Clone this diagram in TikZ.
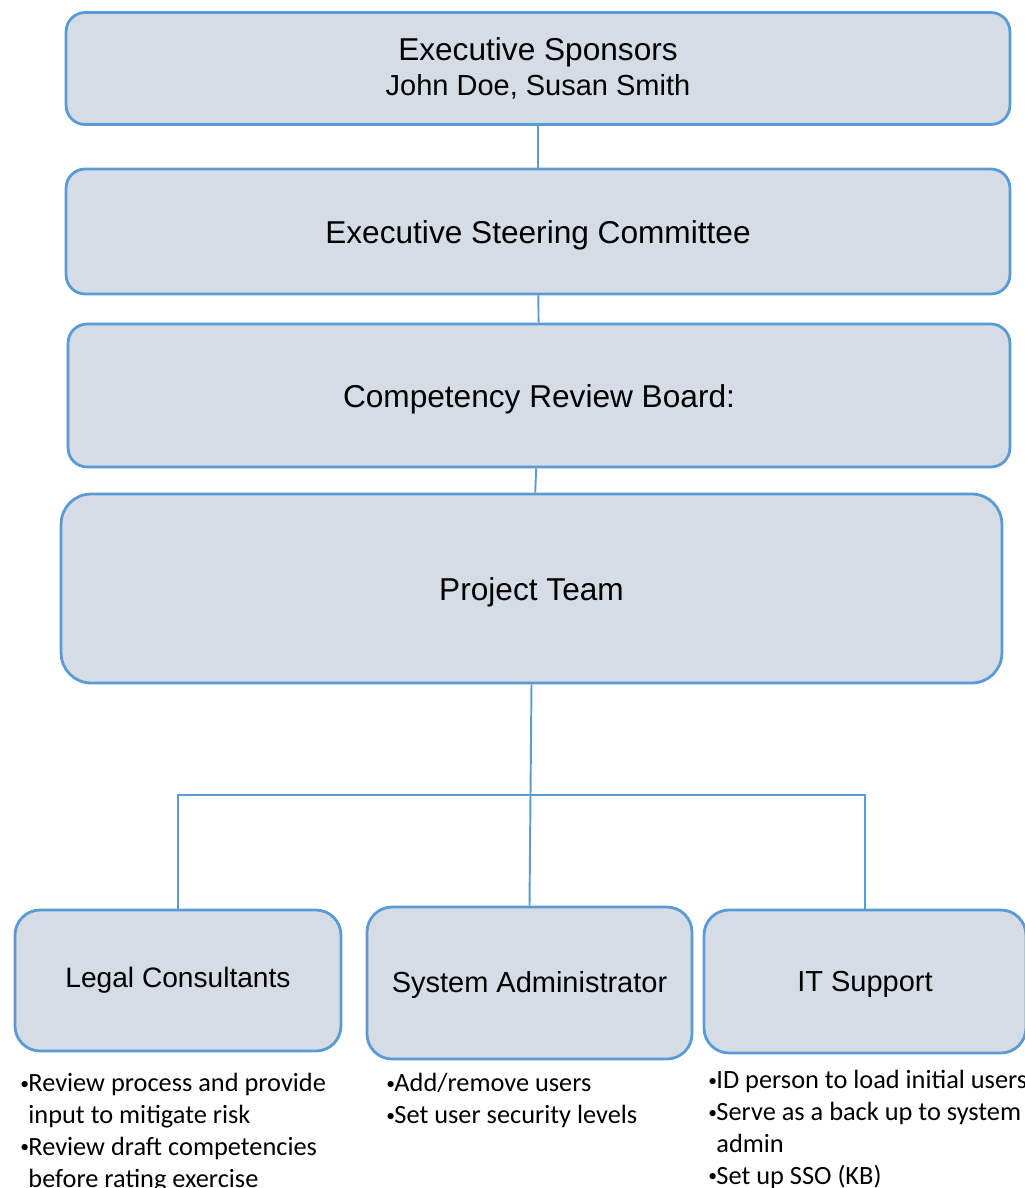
\documentclass[tikz,border=0pt]{standalone}
\usepackage{fontspec}
\setmainfont{Liberation Sans}
\newfontfamily\notefont{Carlito}
\usetikzlibrary{positioning}
\usetikzlibrary{calc}
\definecolor{boxfill}{HTML}{D6DCE5}
\definecolor{boxline}{HTML}{5B9BD5}
\newcommand{\bul}{\makebox[4.6pt][l]{\raisebox{0.1em}{\fontsize{10}{10}\selectfont •}}}
\newcommand{\hang}{\hspace*{4.6pt}}
\tikzset{unit/.style={draw=boxline, fill=boxfill, line width=1.6pt, rounded corners=0.38cm, align=center, inner sep=0pt}}
\tikzset{big/.style={font=\fontsize{18}{21}\selectfont}}
\tikzset{small/.style={font=\fontsize{16.5}{20}\selectfont}}
\tikzset{lowbig/.style={text height=17.5pt, text depth=4pt}}
\tikzset{lowsmall/.style={text height=15pt, text depth=3.7pt}}
\tikzset{conn/.style={draw=boxline, line width=1.1pt}}
\tikzset{notes/.style={anchor=north west, inner sep=0pt, align=left, font=\notefont\fontsize{15}{18.2}\selectfont}}

\begin{document}
\begin{tikzpicture}[x=0.02cm, y=-0.02cm]
\useasboundingbox (0,0) rectangle (1025,1188);

%%% The chain of boards

\node[unit, big, minimum width=18.88cm, minimum height=2.24cm] (sponsors) at (538, 68.5)
 {Executive Sponsors\\[-1pt] {\fontsize{16.5}{20}\selectfont John Doe, Susan Smith}};
\node[unit, big, lowbig, minimum width=18.88cm, minimum height=2.5cm] (steering) at (538, 231.5) {Executive Steering Committee};
\node[unit, big, lowbig, minimum width=18.84cm, minimum height=2.86cm] (board) at (539, 395.5) {Competency Review Board:};
\node[unit, big, lowbig, minimum width=18.82cm, minimum height=3.78cm, rounded corners=0.6cm] (team) at (531.5, 588.5) {Project Team};

\draw[conn] (sponsors) -- (steering);
\draw[conn] (steering) -- (board);
\draw[conn] (board) -- (team);

%%% The three roles

\node[unit, small, font=\fontsize{16}{19}\selectfont, minimum width=6.52cm, minimum height=2.82cm, rounded corners=0.5cm] (legal) at (178, 980.5) {Legal Consultants};
\node[unit, small, lowsmall, minimum width=6.5cm, minimum height=3.04cm, rounded corners=0.5cm] (admin) at (529.5, 983) {System Administrator};
\node[unit, small, lowsmall, minimum width=6.44cm, minimum height=2.86cm, rounded corners=0.5cm] (itsup) at (865, 981.5) {IT Support};

\coordinate (split) at (531, 795);
\draw[conn] (team.south) -- (admin.north);
\draw[conn] (legal.north) |- (split) -| (itsup.north);

%%% What each role does

\node[notes] (legalnotes) at (20, 1073)
 {\bul Review process and provide\\ \hang input to mitigate risk\\ \bul Review draft competencies\\ \hang before rating exercise};
\node[notes] (adminnotes) at (386, 1073)
 {\bul Add/remove users\\ \bul Set user security levels};
\node[notes] (itnotes) at (708, 1070)
 {\bul ID person to load initial users\\ \bul Serve as a back up to system\\ \hang admin\\ \bul Set up SSO (KB)};

\end{tikzpicture}
\end{document}
